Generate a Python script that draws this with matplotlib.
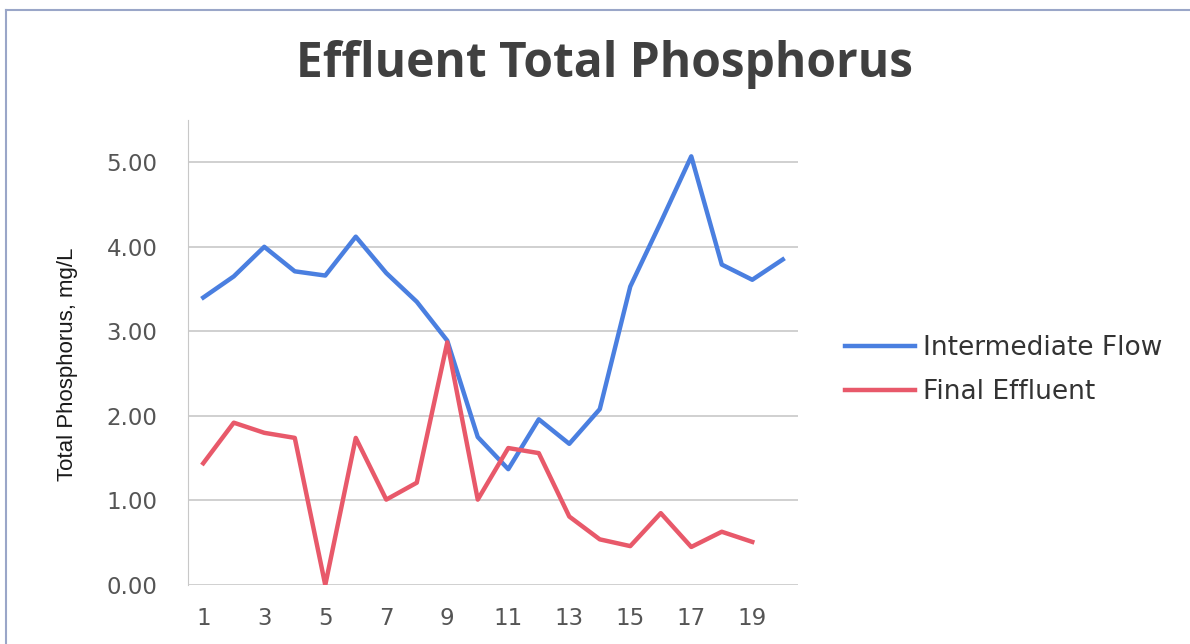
import numpy as np
import matplotlib
matplotlib.use("Agg")
import matplotlib.pyplot as plt
from matplotlib.lines import Line2D

# sample number
days = list(range(1, 21))

# Total phosphorus, mg/L
intermediate = [3.40, 3.65, 4.00, 3.71, 3.66, 4.12, 3.69, 3.35, 2.89, 1.75,
                1.37, 1.96, 1.67, 2.08, 3.53, 4.29, 5.07, 3.79, 3.61, 3.85]
final = [1.44, 1.92, 1.80, 1.74, 0.00, 1.74, 1.01, 1.21, 2.87, 1.01,
         1.62, 1.56, 0.81, 0.54, 0.46, 0.85, 0.45, 0.63, 0.51]

ytick_vals = [0, 1, 2, 3, 4, 5]
xtick_vals = list(range(1, 20, 2))

blue = "#4a7fe0"
red = "#e8596a"
txt = "#555555"

fig = plt.figure(figsize=(11.9, 6.44), dpi=100)
fig.patch.set_facecolor("white")

# chart border (left and top edges visible)
fig.add_artist(Line2D([0.005, 0.005], [0.0, 0.985], color="#9aa6c8", lw=1.5))
fig.add_artist(Line2D([0.005, 1.0], [0.985, 0.985], color="#9aa6c8", lw=1.5))

ax = fig.add_axes([0.158, 0.0916, 0.5126, 0.7221])

ax.plot(days, intermediate, color=blue, lw=3.2, solid_joinstyle="round",
        label="Intermediate Flow")
ax.plot(days[:len(final)], final, color=red, lw=3.2, solid_joinstyle="round",
        label="Final Effluent")

ax.set_xlim(0.5, 20.5)
ax.set_ylim(0, 5.5)
ax.set_yticks(ytick_vals)
ax.set_yticklabels(["%.2f" % v for v in ytick_vals])
ax.set_xticks(xtick_vals)
ax.set_xticklabels([str(v) for v in xtick_vals])

ax.grid(axis="y", color="#c8c8c8", lw=1.2)
ax.set_axisbelow(True)
for s in ["top", "right", "bottom"]:
    ax.spines[s].set_visible(False)
ax.spines["left"].set_color("#c8c8c8")
ax.tick_params(length=0, labelsize=16.5, colors=txt)
ax.tick_params(axis="y", pad=22)
ax.tick_params(axis="x", pad=16)
for lab in ax.get_xticklabels() + ax.get_yticklabels():
    lab.set_family("DejaVu Sans")

ax.set_ylabel("Total Phosphorus, mg/L", fontsize=16, color="#1a1a1a",
              family=["Liberation Sans", "DejaVu Sans"])
ax.yaxis.set_label_coords(-0.181, 0.475)

fig.text(0.5076, 0.8804, "Effluent Total Phosphorus", ha="center",
         va="baseline", fontsize=34.5, fontweight="bold", color="#404040",
         family="Open Sans")

leg = fig.legend(loc="center left", bbox_to_anchor=(845 / 1190, 1 - 370 / 644),
                 frameon=False, fontsize=19, handlelength=2.65,
                 handletextpad=0.3, labelspacing=0.7, borderpad=0,
                 borderaxespad=0)
for t in leg.get_texts():
    t.set_color("#333333")
    t.set_family("DejaVu Sans")

fig.savefig("out.png", dpi=100)
